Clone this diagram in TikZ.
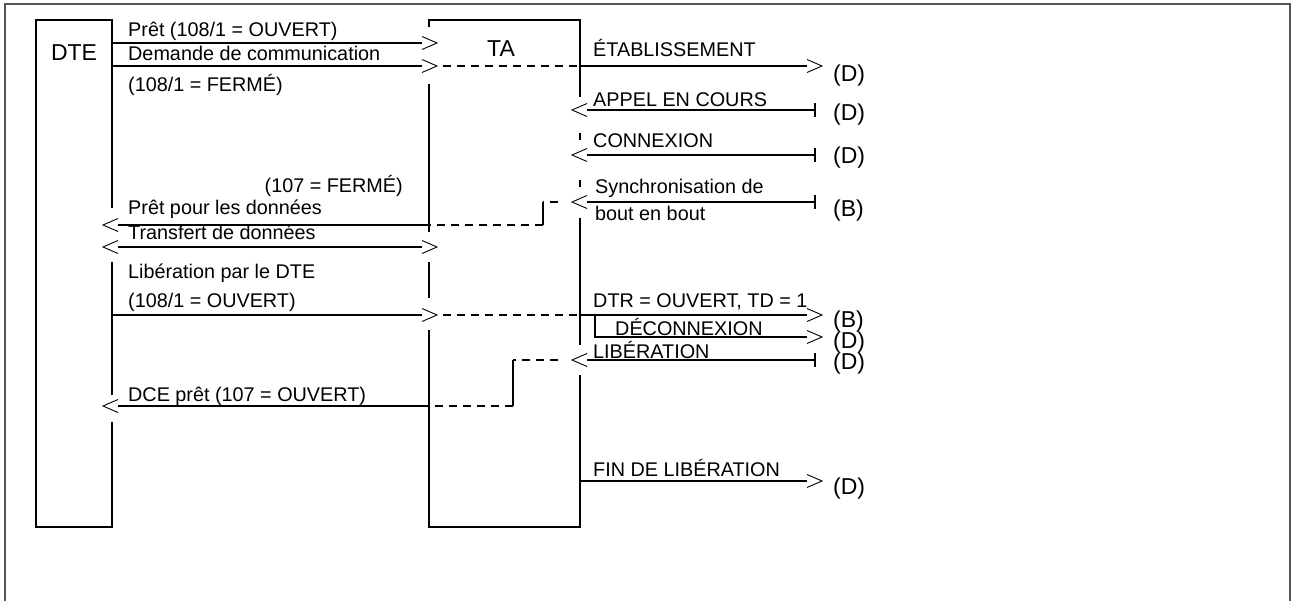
\documentclass[tikz,border=0pt]{standalone}
\usepackage{fontspec}
\setmainfont{Liberation Sans}
\begin{document}
\begin{tikzpicture}[x=1pt,y=-1pt,
  frame/.style={draw=black!67,line width=2pt},
  box/.style={draw,line width=1.9pt,inner sep=0pt,outer sep=0pt},
  conn/.style={line width=1.8pt},
  dsh/.style={line width=1.8pt,dash pattern=on 8pt off 6pt},
  chev/.style={line width=0.9pt},
  teebar/.style={line width=1.9pt},
  gap/.style={fill=white},
  lbl/.style={font=\fontsize{19.8}{23}\selectfont,inner sep=0pt,anchor=base west},
  lblr/.style={font=\fontsize{19.8}{23}\selectfont,inner sep=0pt,anchor=base east},
  big/.style={font=\fontsize{23}{26}\selectfont,inner sep=0pt,anchor=base},
  tag/.style={font=\fontsize{23}{26}\selectfont,inner sep=0pt,anchor=west},
  rchev/.pic={\draw[chev] (-15,-6.5) -- (0,0) -- (-15,6.5);},
  lchev/.pic={\draw[chev] (15,-6.5) -- (0,0) -- (15,6.5);}
]
\useasboundingbox (0,0) rectangle (1291,601);
\draw[frame] (5,601) -- (5,4) -- (1290,4) -- (1290,601);

% boxes
\node[box,minimum width=76pt,minimum height=507pt] (DTE) at (74,273.5) {};
\node[box,minimum width=151pt,minimum height=507pt] (TA) at (504.5,273.5) {};
\node[big] (DTEl) at (74,61) {DTE};
\node[big] (TAl) at (501,57) {TA};

% gaps in box edges
\fill[gap] (426,27) rectangle (432,84);
\fill[gap] (426,232) rectangle (432,262);
\fill[gap] (426,298) rectangle (432,330);
\fill[gap] (577,97) rectangle (583,133);
\fill[gap] (577,140) rectangle (583,180);
\fill[gap] (577,187) rectangle (583,218);
\fill[gap] (577,345) rectangle (583,375);
\fill[gap] (109,208) rectangle (115,262);
\fill[gap] (109,395) rectangle (115,422);

% named points
\coordinate (tA) at (815,110);
\coordinate (tC) at (815,155);
\coordinate (tS) at (815,202);
\coordinate (tL) at (815,360);

% 1 Pret
\draw[conn] (DTE.east |- 0,43) -- (422,43);
\pic at (437,43) {rchev};
% 2 Demande de communication -> ETABLISSEMENT
\draw[conn] (DTE.east |- 0,66) -- (422,66);
\pic at (437,66) {rchev};
\draw[dsh] (443,66) -- (TA.east |- 0,66);
\draw[conn] (TA.east |- 0,66) -- (807,66);
\pic at (822,66) {rchev};
% 3 APPEL EN COURS
\draw[teebar] ([yshift=7pt]tA) -- ([yshift=-7pt]tA);
\draw[conn] (tA) -- (587,110);
\pic at (572,110) {lchev};
% 4 CONNEXION
\draw[teebar] ([yshift=7pt]tC) -- ([yshift=-7pt]tC);
\draw[conn] (tC) -- (587,155);
\pic at (572,155) {lchev};
% 5 Synchronisation -> Pret pour les donnees
\draw[teebar] ([yshift=7pt]tS) -- ([yshift=-7pt]tS);
\draw[conn] (tS) -- (587,202);
\pic at (572,202) {lchev};
\draw[dsh] (558,202) -- (543,202);
\draw[conn] (543,202) -- (543,225);
\draw[dsh] (543,225) -- (TA.west |- 0,225);
\draw[conn] (TA.west |- 0,225) -- (118,225);
\pic at (103,225) {lchev};
% 6 Transfert
\draw[conn] (118,247) -- (422,247);
\pic at (103,247) {lchev};
\pic at (437,247) {rchev};
% 7 Liberation par le DTE -> DTR, DECONNEXION
\draw[conn] (DTE.east |- 0,315) -- (422,315);
\pic at (437,315) {rchev};
\draw[dsh] (443,315) -- (TA.east |- 0,315);
\draw[conn] (TA.east |- 0,315) -- (807,315);
\pic at (822,315) {rchev};
\draw[conn] (595,315) -- (595,337) -- (807,337);
\pic at (822,337) {rchev};
% 8 LIBERATION -> DCE pret
\draw[teebar] ([yshift=7pt]tL) -- ([yshift=-7pt]tL);
\draw[conn] (tL) -- (587,360);
\pic at (572,360) {lchev};
\draw[dsh] (558,360) -- (513,360);
\draw[conn] (513,360) -- (513,406);
\draw[dsh] (513,406) -- (TA.west |- 0,406);
\draw[conn] (TA.west |- 0,406) -- (118,406);
\pic at (103,406) {lchev};
% 9 FIN DE LIBERATION
\draw[conn] (TA.east |- 0,481) -- (807,481);
\pic at (822,481) {rchev};

% labels
\node[lbl] (l1) at (128,37) {Prêt (108/1 = OUVERT)};
\node[lbl] (l2) at (128,61) {Demande de communication};
\node[lbl] (l3) at (128,92) {(108/1 = FERMÉ)};
\node[lbl] (l4) at (593,57) {ÉTABLISSEMENT};
\node[lbl] (l5) at (593,107) {APPEL EN COURS};
\node[lbl] (l6) at (593,148) {CONNEXION};
\node[lblr] (l7) at (403,193) {(107 = FERMÉ)};
\node[lbl] (l8) at (595,194) {Synchronisation de};
\node[lbl] (l9) at (595,221) {bout en bout};
\node[lbl] (l10) at (128,215) {Prêt pour les données};
\node[lbl] (l11) at (128,240) {Transfert de données};
\node[lbl] (l12) at (128,279) {Libération par le DTE};
\node[lbl] (l13) at (128,308) {(108/1 = OUVERT)};
\node[lbl] (l14) at (593,308) {DTR = OUVERT, TD = 1};
\node[lbl] (l15) at (615,336) {DÉCONNEXION};
\node[lbl] (l16) at (593,359) {LIBÉRATION};
\node[lbl] (l17) at (128,402) {DCE prêt (107 = OUVERT)};
\node[lbl] (l18) at (593,477) {FIN DE LIBÉRATION};

% end tags
\node[tag] (g1) at (833,76) {(D)};
\node[tag] (g2) at (833,115) {(D)};
\node[tag] (g3) at (833,158) {(D)};
\node[tag] (g4) at (833,211) {(B)};
\node[tag] (g5) at (833,322) {(B)};
\node[tag] (g6) at (833,343) {(D)};
\node[tag] (g7) at (833,364) {(D)};
\node[tag] (g8) at (833,489) {(D)};
\end{tikzpicture}
\end{document}
